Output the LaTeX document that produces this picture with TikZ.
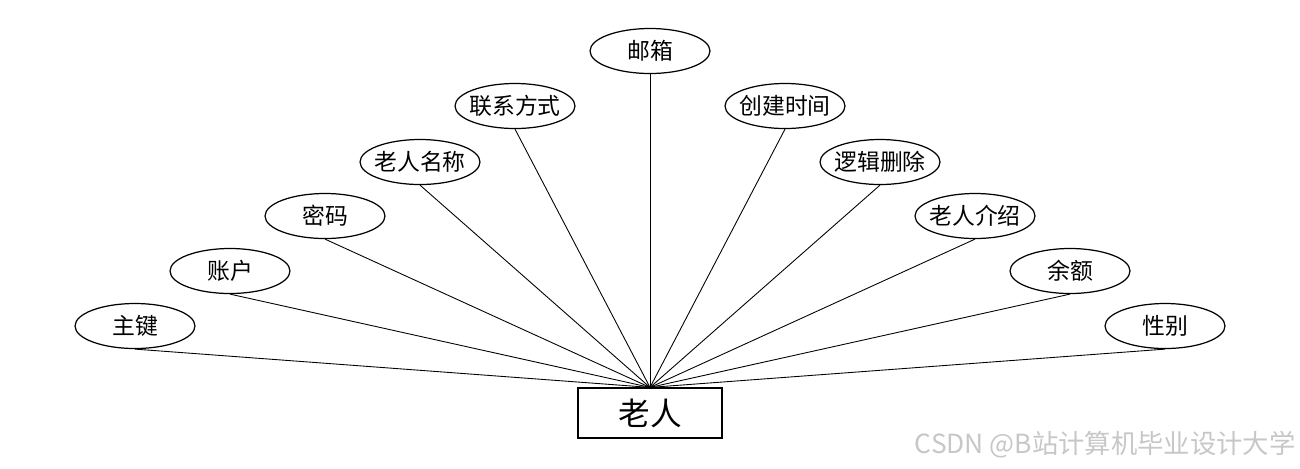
\documentclass[tikz,border=0pt]{standalone}
\usepackage{fontspec}
\newfontfamily\cjk{Noto Sans CJK SC}
\usetikzlibrary{shapes.geometric}
\tikzset{
	attr/.style={ellipse, draw, line width=0.7pt, minimum width=2.4cm, minimum height=0.9cm, inner xsep=-3pt, inner ysep=0pt, font=\cjk\fontsize{13}{15}\selectfont},
	entity/.style={rectangle, draw, line width=0.7pt, minimum width=2.88cm, minimum height=1cm, inner sep=0pt, font=\cjk\fontsize{18}{21}\selectfont},
	link/.style={line width=0.5pt}
}
\begin{document}
\begin{tikzpicture}[x=0.02cm, y=-0.02cm]
	\useasboundingbox (0, 0) rectangle (1300, 468);
	% Entity and its attributes:
	\node[entity] (laoren) at (650, 413) {老人};
	\node[attr] (zhujian) at (135, 326) {主键};
	\node[attr] (zhanghu) at (230, 271) {账户};
	\node[attr] (mima) at (325, 216) {密码};
	\node[attr] (mingcheng) at (420, 162) {老人名称};
	\node[attr] (lianxi) at (515, 106) {联系方式};
	\node[attr] (youxiang) at (650, 51) {邮箱};
	\node[attr] (chuangjian) at (785, 106) {创建时间};
	\node[attr] (shanchu) at (880, 162) {逻辑删除};
	\node[attr] (jieshao) at (975, 216) {老人介绍};
	\node[attr] (yue) at (1070, 271) {余额};
	\node[attr] (xingbie) at (1165, 326) {性别};
	% Wires:
	\foreach \a in {zhujian, zhanghu, mima, mingcheng, lianxi, youxiang, chuangjian, shanchu, jieshao, yue, xingbie}
		\draw[link] (\a.south) -- (laoren.north);
	% Watermark:
	\node[anchor=east, text=black!22, font=\cjk\fontsize{15}{17}\selectfont, inner sep=0pt] (mark) at (1296, 445) {CSDN @B站计算机毕业设计大学};
\end{tikzpicture}
\end{document}
